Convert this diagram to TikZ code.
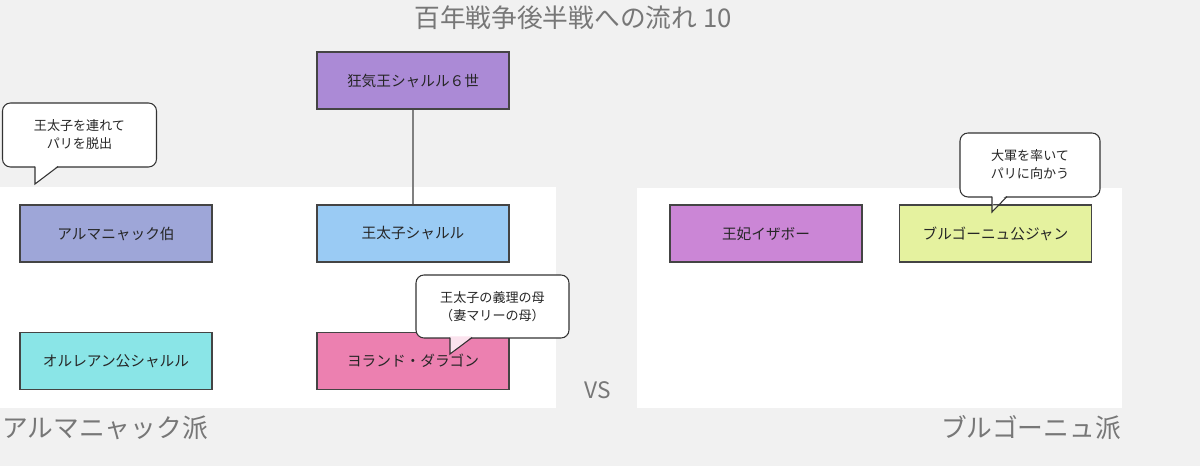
\documentclass[tikz,border=0pt]{standalone}
\usepackage{fontspec}
\setmainfont{Noto Sans CJK JP}
\usetikzlibrary{positioning}
\definecolor{bg}{HTML}{F1F1F1}
\definecolor{gtext}{HTML}{777777}
\definecolor{cKing}{HTML}{AB8AD6}
\definecolor{cDau}{HTML}{9ACBF4}
\definecolor{cArm}{HTML}{9EA6D8}
\definecolor{cOrl}{HTML}{8AE5E7}
\definecolor{cYol}{HTML}{EC80B0}
\definecolor{cIsa}{HTML}{CB86D6}
\definecolor{cBur}{HTML}{E5F29F}
\definecolor{edge}{HTML}{444444}
\definecolor{cline}{HTML}{333333}
\tikzset{
  pbox/.style={draw=edge, line width=0.8pt, minimum width=144pt, minimum height=42.75pt, inner sep=0pt, font=\fontsize{11}{12}\selectfont, text=black!85},
  callbody/.style={draw=cline, line width=0.8pt, fill=white, rounded corners=6pt, inner sep=0pt, font=\fontsize{9.8}{13.5}\selectfont, align=center, text=black!85},
  tailline/.style={draw=cline, line width=0.8pt, line join=miter},
  biglabel/.style={font=\fontsize{19.3}{21}\selectfont, text=gtext, inner sep=0pt}
}
\begin{document}
\begin{tikzpicture}[x=0.75pt, y=-0.75pt]
\fill[bg] (0,0) rectangle (1200,466);
\useasboundingbox (0,0) rectangle (1200,466);
% panels
\fill[white] (0,187) rectangle (556,408);
\fill[white] (637,188) rectangle (1122,408);
% title
\node[font=\fontsize{19.3}{21}\selectfont, text=gtext, inner sep=0pt] (title) at (573,18) {百年戦争後半戦への流れ 10};
% boxes
\node[pbox, fill=cKing] (king) at (413,80.5) {狂気王シャルル６世};
\node[pbox, fill=cDau] (dau) at (413,233.5) {王太子シャルル};
\node[pbox, fill=cArm] (arm) at (116,233.5) {アルマニャック伯};
\node[pbox, fill=cOrl] (orl) at (116,361) {オルレアン公シャルル};
\node[pbox, fill=cYol] (yol) at (413,361) {ヨランド・ダラゴン};
\node[pbox, fill=cIsa] (isa) at (766,233.5) {王妃イザボー};
\node[pbox, fill=cBur] (bur) at (995.5,233.5) {ブルゴーニュ公ジャン};
\draw[gray, line width=1.3pt] (king.south) -- (dau.north);
% callout 1
\node[callbody, minimum width=115.5pt, minimum height=48pt] (c1) at (79.5,135) {王太子を連れて\\パリを脱出};
\fill[white] (35,165.5) -- (35,184) -- (58,165.5) -- cycle;
\draw[tailline] (35,166.6) -- (35,184) -- (58,166.6);
% callout 2
\node[callbody, minimum width=114.75pt, minimum height=47.25pt] (c2) at (492.5,306.5) {王太子の義理の母\\（妻マリーの母）};
\fill[white!78!cYol] (450,336.5) -- (450,354) -- (472,336.5) -- cycle;
\fill[white] (450,336.5) rectangle (472,333);
\draw[tailline] (450,337.6) -- (450,354) -- (472,337.6);
% callout 3
\node[callbody, minimum width=105pt, minimum height=48pt] (c3) at (1030,165) {大軍を率いて\\パリに向かう};
\fill[white] (992,195.5) -- (992,205) -- (1007,195.5) -- cycle;
\fill[white!70!cBur] (992,205.4) -- (992,212) -- (997.6,205.4) -- cycle;
\draw[tailline] (992,196.6) -- (992,212) -- (1007,196.6);
% labels
\node[font=\fontsize{17}{20}\selectfont, text=gtext, inner sep=0pt] (vs) at (598,390) {VS};
\node[biglabel, anchor=west] (armha) at (2,428) {アルマニャック派};
\node[biglabel, anchor=east] (burha) at (1121,428) {ブルゴーニュ派};
\end{tikzpicture}
\end{document}
